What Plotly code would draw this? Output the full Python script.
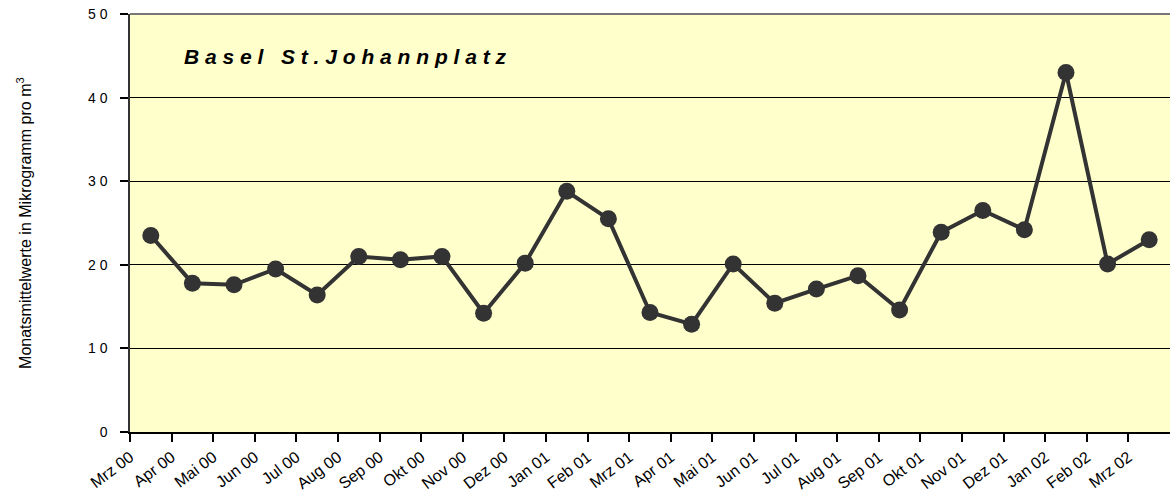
import plotly.graph_objects as go

months = ["Mrz 00", "Apr 00", "Mai 00", "Jun 00", "Jul 00", "Aug 00", "Sep 00", "Okt 00",
          "Nov 00", "Dez 00", "Jan 01", "Feb 01", "Mrz 01", "Apr 01", "Mai 01", "Jun 01",
          "Jul 01", "Aug 01", "Sep 01", "Okt 01", "Nov 01", "Dez 01", "Jan 02", "Feb 02", "Mrz 02"]
values = [23.5, 17.8, 17.6, 19.5, 16.4, 21.0, 20.6, 21.0, 14.2, 20.2, 28.8, 25.5, 14.3,
          12.9, 20.1, 15.4, 17.1, 18.7, 14.6, 23.9, 26.5, 24.2, 43.0, 20.1, 23.0]
y_ticks = [0, 10, 20, 30, 40, 50]
y_tick_labels = ["0", "1 0", "2 0", "3 0", "4 0", "5 0"]
title_text = "Basel St.Johannplatz"
y_title = "Monatsmittelwerte in Mikrogramm pro m<sup>3</sup>"

x_pos = [i + 0.5 for i in range(len(months))]
tick_pos = list(range(len(months)))

fig = go.Figure()
fig.add_trace(go.Scatter(
    x=x_pos, y=values, mode="lines+markers",
    line=dict(color="#333333", width=4),
    marker=dict(color="#333333", size=17, symbol="circle"),
    showlegend=False, cliponaxis=False,
))

spaced_title = " ".join(list(title_text))

FONT = "Liberation Sans, Arial"
fig.update_layout(
    width=1170, height=501,
    margin=dict(l=130, r=0, t=14, b=69),
    paper_bgcolor="white", plot_bgcolor="#FFFFCC",
    font=dict(family=FONT, color="black"),
    xaxis=dict(
        range=[0, 25], tickmode="array", tickvals=tick_pos, ticktext=months,
        tickangle=-37, ticks="outside", ticklen=8, tickcolor="black", tickwidth=1.5,
        showgrid=False, zeroline=False, showline=True, linecolor="black", linewidth=1.5,
        tickfont=dict(size=16, family=FONT), automargin=False,
        ticklabeloverflow="allow",
    ),
    yaxis=dict(
        range=[0, 50], tickmode="array", tickvals=y_ticks, ticktext=y_tick_labels,
        ticks="outside", ticklen=8, tickcolor="black", tickwidth=1.5,
        showgrid=True, gridcolor="black", gridwidth=1, zeroline=False,
        showline=True, linecolor="#333333", linewidth=1.5,
        tickfont=dict(size=14, family=FONT), automargin=False,
        ticklabelstandoff=10, ticklabeloverflow="allow",
    ),
    shapes=[dict(type="line", xref="paper", yref="paper", x0=0, x1=1, y0=1, y1=1,
                 line=dict(color="#777777", width=2))],
    annotations=[
        dict(text="<b><i>" + spaced_title + "</i></b>", xref="x", yref="y",
             x=1.25, y=44.9, xanchor="left", yanchor="middle", showarrow=False,
             font=dict(size=21, family=FONT, color="black")),
        dict(text=y_title, xref="paper", yref="paper", x=-0.102, y=0.5,
             xanchor="center", yanchor="middle", textangle=-90, showarrow=False,
             font=dict(size=16, family=FONT, color="black")),
    ],
)

fig.write_html("out.html", config={"displayModeBar": False},
               post_script="document.body.style.margin='0';")
